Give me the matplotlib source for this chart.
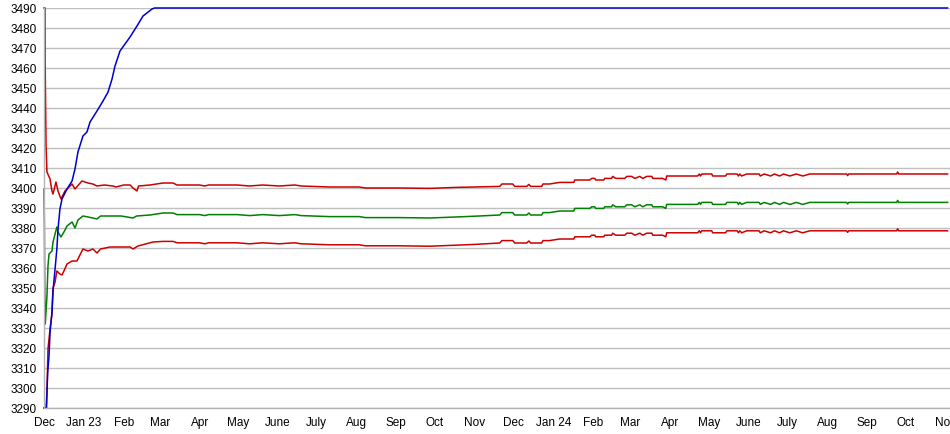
import datetime as dt
import matplotlib
matplotlib.use("Agg")
import matplotlib.pyplot as plt
import matplotlib.dates as mdates

START = dt.datetime(2022, 12, 1)

# ---- data (x = days since 2022-12-01) ----
blue_days = [0, 2.0, 2.3, 2.9, 3.9, 4.7, 6.2, 7.0, 8.6, 10.0, 10.9, 12.4, 14.0, 17.9, 21.8,
             24.1, 26.4, 30.3, 33.4, 35.8, 41.2, 45.9, 49.8, 52.9, 55.2, 59.1, 63, 66.9,
             72.3, 77, 84, 86, 702.6]
blue_vals = [3290, 3290, 3298, 3308, 3316, 3328, 3338, 3348.5, 3359.5, 3369.5, 3379.5, 3389.5,
             3394.5, 3399.5, 3403.5, 3409.5, 3418, 3426, 3428, 3433, 3438.5, 3443.5, 3448,
             3454.5, 3461, 3468.5, 3472, 3475.5, 3481, 3486, 3489.5, 3490, 3490]

hi_early_days = [0, 0.8, 0.9, 1.6, 2.3, 4.7, 6.2, 7.0, 9.3, 10.9, 13.2, 16.3, 21.8, 24.1, 29.5,
                 34.2, 38, 41.2, 47, 53.7, 56, 62, 67, 69.2, 72.3, 73.5, 82.4, 92.5, 100.3]
hi_early_vals = [3490, 3490, 3462, 3421, 3408, 3404.5, 3398.5, 3397, 3403, 3398.5, 3394.5,
                 3398.5, 3402, 3399.5, 3403.5, 3402.5, 3402, 3401, 3401.5, 3401, 3400.5,
                 3401.5, 3401.5, 3400, 3398.5, 3401, 3401.5, 3402.5, 3402.5]

mid_early_days = [0, 0.3, 0.6, 1.0, 2.3, 3.1, 3.9, 6.2, 7.0, 10.0, 10.9, 13.2, 15.5, 17.9, 21.8,
                  24.1, 26.4, 30.3, 34.2, 38, 41.2, 44, 51, 60, 69.2, 72, 82.4, 92.5, 100.3]
mid_early_vals = [3399.5, 3383, 3349.5, 3332, 3346, 3361, 3367, 3368.5, 3373, 3380.5, 3378,
                  3375.5, 3378, 3381, 3383, 3380, 3384, 3386, 3385.5, 3385, 3384.5, 3386,
                  3386, 3386, 3385, 3386, 3386.5, 3387.5, 3387.5]

lo_early_days = [0, 1.6, 2.3, 3.1, 4.7, 6.2, 7.0, 8.6, 10.0, 12.4, 14.0, 15.5, 17.9, 21.8, 25.6,
                 26.4, 29.5, 30.3, 34.2, 38, 41.2, 44, 51.3, 67, 69.2, 73.1, 84.8, 92.5, 100.3]
lo_early_vals = [3290, 3290, 3298, 3319.5, 3329.5, 3337, 3350, 3353, 3358.5, 3357, 3356.5,
                 3358.5, 3362, 3363.5, 3363.5, 3364.5, 3368.5, 3369.5, 3368.5, 3369.5, 3367.5,
                 3369.5, 3370.5, 3370.5, 3369.5, 3371, 3373, 3373.3, 3373.3]

late_days = [103.4, 121, 125, 128, 150, 160, 170, 183, 195, 200, 222, 245, 250, 276, 300, 320,
             335, 354.4, 356, 364.5, 366, 375.4, 377, 378.5, 387, 388, 393, 401, 412, 412.7,
             424.4, 425.9, 428.3, 429, 435.3, 436, 441.4, 442.2, 444.6, 451.6, 453.2, 457,
             459.4, 463.3, 465.6, 468.7, 472.6, 473.4, 481.1, 483.5, 484.2, 508.3, 509.5,
             510.5, 511.4, 519.2, 520, 530, 531, 539, 540, 541, 542.5, 546.4, 556, 557, 560,
             565, 568, 572, 575, 580, 585, 590, 595.4, 624.1, 624.9, 625.7, 663, 663.8, 664.6,
             702.6]
hi_late = [3401.5, 3401.5, 3401.0, 3401.5, 3401.5, 3401.0, 3401.5, 3401.0, 3401.5, 3401.0,
           3400.5, 3400.5, 3400.0, 3400.0, 3399.8, 3400.3, 3400.5, 3400.8, 3402.0, 3402.0,
           3400.8, 3400.8, 3401.8, 3400.8, 3400.8, 3402.0, 3402.0, 3402.8, 3402.8, 3404.0,
           3404.0, 3404.8, 3404.8, 3404.0, 3404.0, 3404.8, 3404.8, 3405.8, 3404.8, 3404.8,
           3405.8, 3405.8, 3404.8, 3405.8, 3404.8, 3405.8, 3405.8, 3404.8, 3404.8, 3404.0,
           3406.0, 3406.0, 3407.0, 3406.0, 3407.0, 3407.0, 3406.0, 3406.0, 3407.0, 3407.0,
           3406.0, 3407.0, 3406.0, 3407.0, 3407.0, 3406.0, 3407.0, 3406.0, 3407.0, 3406.0,
           3407.0, 3406.0, 3407.0, 3406.0, 3407.0, 3407.0, 3406.2, 3407.0, 3407.0, 3408.0,
           3407.0, 3407.0]
mid_late = [3386.7, 3386.7, 3386.2, 3386.7, 3386.7, 3386.2, 3386.7, 3386.2, 3386.7, 3386.2,
            3385.7, 3385.7, 3385.2, 3385.2, 3385.0, 3385.5, 3385.9, 3386.5, 3387.7, 3387.7,
            3386.5, 3386.5, 3387.5, 3386.5, 3386.5, 3387.7, 3387.7, 3388.5, 3388.5, 3389.8,
            3389.8, 3390.6, 3390.6, 3389.8, 3389.8, 3390.6, 3390.6, 3391.6, 3390.6, 3390.6,
            3391.6, 3391.6, 3390.6, 3391.6, 3390.6, 3391.6, 3391.6, 3390.6, 3390.6, 3389.8,
            3391.8, 3391.8, 3392.8, 3391.8, 3392.8, 3392.8, 3391.8, 3391.8, 3392.8, 3392.8,
            3391.8, 3392.8, 3391.8, 3392.8, 3392.8, 3391.8, 3392.8, 3391.8, 3392.8, 3391.8,
            3392.8, 3391.8, 3392.8, 3391.8, 3392.8, 3392.8, 3392.0, 3392.8, 3392.8, 3393.8,
            3392.8, 3392.8]
lo_late = [3372.6, 3372.6, 3372.1, 3372.6, 3372.6, 3372.1, 3372.6, 3372.1, 3372.6, 3372.1,
           3371.6, 3371.6, 3371.1, 3371.1, 3370.9, 3371.4, 3371.8, 3372.5, 3373.7, 3373.7,
           3372.5, 3372.5, 3373.5, 3372.5, 3372.5, 3373.7, 3373.7, 3374.5, 3374.5, 3375.6,
           3375.6, 3376.4, 3376.4, 3375.6, 3375.6, 3376.4, 3376.4, 3377.4, 3376.4, 3376.4,
           3377.4, 3377.4, 3376.4, 3377.4, 3376.4, 3377.4, 3377.4, 3376.4, 3376.4, 3375.6,
           3377.6, 3377.6, 3378.6, 3377.6, 3378.6, 3378.6, 3377.6, 3377.6, 3378.6, 3378.6,
           3377.6, 3378.6, 3377.6, 3378.6, 3378.6, 3377.6, 3378.6, 3377.6, 3378.6, 3377.6,
           3378.6, 3377.6, 3378.6, 3377.6, 3378.6, 3378.6, 3377.8, 3378.6, 3378.6, 3379.6,
           3378.6, 3378.6]

month_labels = ["Dec", "Jan 23", "Feb", "Mar", "Apr", "May", "June", "July", "Aug", "Sep",
                "Oct", "Nov", "Dec", "Jan 24", "Feb", "Mar", "Apr", "May", "June", "July",
                "Aug", "Sep", "Oct", "Nov"]
y_ticks = list(range(3290, 3491, 10))


def to_dates(days):
    return [START + dt.timedelta(days=d) for d in days]


plt.rcParams['font.family'] = ['Liberation Sans', 'DejaVu Sans']

fig = plt.figure(figsize=(9.5, 4.35), dpi=100)
ax = fig.add_axes([44 / 950, 1 - 409 / 435, 1 - 44 / 950, 400 / 435])

RED = "#cc0000"
GREEN = "#008000"
BLUE = "#0000cc"
lw = 1.1

ax.plot(to_dates(hi_early_days + late_days), hi_early_vals + hi_late, color=RED, lw=lw, clip_on=False)
ax.plot(to_dates(lo_early_days + late_days), lo_early_vals + lo_late, color=RED, lw=lw, clip_on=False)
ax.plot(to_dates(mid_early_days + late_days), mid_early_vals + mid_late, color=GREEN, lw=lw, clip_on=False)
ax.plot(to_dates(blue_days), blue_vals, color=BLUE, lw=lw, clip_on=False)

ax.set_ylim(3290, 3490)
ax.set_xlim(START, START + dt.timedelta(days=704.5))
ax.set_yticks(y_ticks)

month_starts = []
y, m = 2022, 12
for _ in month_labels:
    month_starts.append(dt.datetime(y, m, 1))
    m += 1
    if m > 12:
        m = 1
        y += 1
ax.set_xticks(month_starts)
ax.set_xticklabels(month_labels)

ax.grid(axis='y', color='#c0c0c0', lw=1.0)
ax.set_axisbelow(True)
for s in ['top', 'right']:
    ax.spines[s].set_visible(False)
for s in ['left', 'bottom']:
    ax.spines[s].set_color('#b4b4b4')
    ax.spines[s].set_linewidth(1.0)
ax.tick_params(axis='both', length=0, labelsize=8.5, colors='black')
ax.tick_params(axis='y', pad=5)
ax.tick_params(axis='x', pad=6)

fig.savefig("out.png", dpi=100)
